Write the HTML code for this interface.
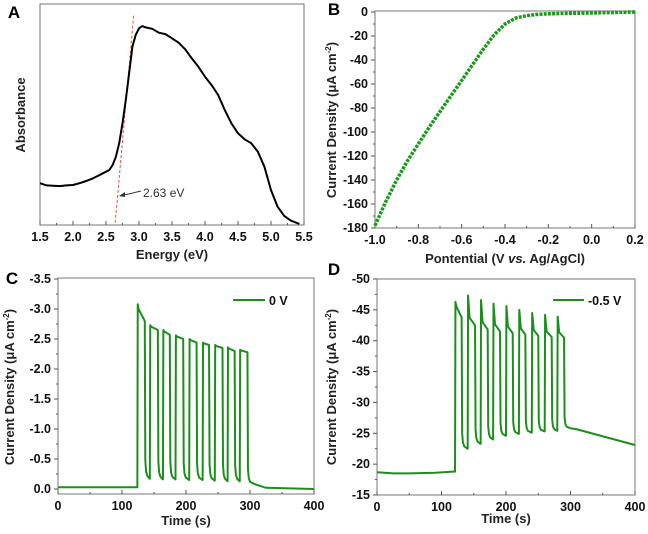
<!DOCTYPE html>
<html><head><meta charset="utf-8"><style>
html,body{margin:0;padding:0;background:#fff;}
svg{display:block;font-family:"Liberation Sans",Arial,sans-serif;}
.tk{font-size:12.5px;font-weight:bold;fill:#111;}
.tt{font-size:13px;font-weight:bold;fill:#222;}
.pl{font-size:17px;font-weight:bold;fill:#000;}
</style></head><body>
<svg id="fig" width="648" height="534" viewBox="0 0 648 534"></svg>
<script>
// ---------- Panel A data ----------
const aEnergy=[1.5,1.6,1.8,1.9,2.0,2.1,2.2,2.3,2.4,2.5,2.55,2.6,2.65,2.7,2.75,2.8,2.85,2.9,2.95,3.0,3.05,3.1,3.2,3.3,3.4,3.5,3.6,3.7,3.8,3.9,4.0,4.1,4.2,4.3,4.4,4.5,4.6,4.7,4.8,4.9,5.0,5.1,5.2,5.3,5.43];
const aAbs=[.189,.179,.176,.179,.181,.189,.199,.211,.226,.241,.249,.271,.309,.370,.460,.566,.686,.807,.860,.890,.900,.894,.888,.870,.864,.845,.825,.795,.754,.716,.671,.633,.588,.520,.460,.415,.388,.370,.332,.264,.158,.083,.041,.020,.005];
const aTicks=[1.5,2.0,2.5,3.0,3.5,4.0,4.5,5.0,5.5];
const aFitE=[2.64,2.92];
const aFitAbs=[0.01,0.95];
// ---------- Panel B data ----------
const bV=[-1.0,-0.95,-0.9,-0.85,-0.8,-0.75,-0.7,-0.65,-0.6,-0.55,-0.5,-0.45,-0.4,-0.35,-0.3,-0.25,-0.2,-0.1,0,0.1,0.2];
const bJ=[-178,-158,-140,-124,-110,-96,-83,-70,-57,-44,-31,-19,-10,-5,-3,-2,-1.5,-1.1,-0.8,-0.4,0];
const bXTicks=[-1.0,-0.8,-0.6,-0.4,-0.2,0.0,0.2];
const bYTicks=[0,-20,-40,-60,-80,-100,-120,-140,-160,-180];
// ---------- Panel C data ----------
const cOn=[124,143.5,164,183.6,205,226,245,265,284];
const cOff=[135.6,156,174.7,195.6,216.5,236,257,276,296];
const cPeak=[-3.08,-2.73,-2.65,-2.56,-2.5,-2.44,-2.4,-2.36,-2.32];
const cEnd=[-2.8,-2.65,-2.57,-2.5,-2.44,-2.4,-2.35,-2.3,-2.28];
const cDark=[-0.17,-0.16,-0.16,-0.15,-0.15,-0.14,-0.13,-0.13,-0.08];
const cBase=[-0.03,0.0];
const cXTicks=[0,100,200,300,400];
const cYTicks=[0.0,-0.5,-1.0,-1.5,-2.0,-2.5,-3.0,-3.5];
// ---------- Panel D data ----------
const dOn=[121,140.6,160.7,180,200,220,240,260,279.5];
const dOff=[131.2,152,171.6,190.7,210.4,230,250,270.8,290];
const dPeak=[-46.3,-47.3,-46.6,-46.0,-45.6,-45.0,-44.5,-44.2,-43.9];
const dEnd=[-43.8,-42.5,-41.8,-41.5,-41.2,-41.0,-40.8,-40.6,-40.5];
const dDark=[-22.5,-23.3,-24.0,-24.6,-24.9,-25.1,-25.3,-25.4,-25.8];
const dBaseT=[0,25,50,90,121];
const dBaseJ=[-18.7,-18.5,-18.5,-18.6,-18.8];
const dTailT=[308,400];
const dTailJ=[-25.7,-23.1];
const dXTicks=[0,100,200,300,400];
const dYTicks=[-15,-20,-25,-30,-35,-40,-45,-50];

const svg=document.getElementById('fig');
const NS='http://www.w3.org/2000/svg';
function mk(tag,attrs,parent){const e=document.createElementNS(NS,tag);for(const k in attrs)e.setAttribute(k,attrs[k]);(parent||svg).appendChild(e);return e;}
function lin(d0,d1,r0,r1){return v=>r0+(v-d0)*(r1-r0)/(d1-d0);}
function fmt(v,dec){return v.toFixed(dec);}

function frame(g,x0,y0,x1,y1){
  const r=mk('rect',{x:x0,y:y0,width:x1-x0,height:y1-y0,fill:'none',stroke:'#777','stroke-width':1},g);
  
}
function xAxis(g,ticks,sx,y,dec){
  ticks.forEach((t,i)=>{
    const x=sx(t);
    mk('line',{x1:x,x2:x,y1:y,y2:y-4,stroke:'#555'},g);
    const tx=mk('text',{x:x,y:y+16,'text-anchor':'middle',class:'tk'},g);tx.textContent=fmt(t,dec);
    
    if(i<ticks.length-1){const m=sx((t+ticks[i+1])/2);mk('line',{x1:m,x2:m,y1:y,y2:y-2,stroke:'#555'},g);}
  });
}
function yAxis(g,ticks,sy,x,dec){
  ticks.forEach((t,i)=>{
    const y=sy(t);
    mk('line',{x1:x,x2:x-4,y1:y,y2:y,stroke:'#555'},g);
    const tx=mk('text',{x:x-7,y:y+4,'text-anchor':'end',class:'tk'},g);tx.textContent=fmt(t,dec);
    
    if(i<ticks.length-1){const m=sy((t+ticks[i+1])/2);mk('line',{x1:x,x2:x-2,y1:m,y2:m,stroke:'#555'},g);}
  });
}
function label(g,txt,x,y,rot,name,cls){
  const t=mk('text',{x:x,y:y,'text-anchor':'middle',class:cls||'tt'},g);
  if(rot)t.setAttribute('transform','rotate(-90 '+x+' '+y+')');
  t.innerHTML=txt;
  return t;
}
function pathD(xs,ys,sx,sy){return xs.map((v,i)=>(i?'L':'M')+sx(v).toFixed(1)+','+sy(ys[i]).toFixed(1)).join(' ');}

// ===== Panel A =====
{
const g=mk('g',{});
const X0=40,X1=304,Y0=4,Y1=225;
const sx=lin(1.5,5.5,X0,X1), sy=lin(0,1,Y1,Y0);
frame(g,X0,Y0,X1,Y1);
xAxis(g,aTicks,sx,Y1,1);
const f=mk('path',{d:pathD(aFitE,aFitAbs,sx,sy),stroke:'#e85050','stroke-width':1,'stroke-dasharray':'3,2',fill:'none'},g);

const p=mk('path',{d:pathD(aEnergy,aAbs,sx,sy),stroke:'#000','stroke-width':2,fill:'none','stroke-linejoin':'round'},g);

const ar=mk('line',{x1:141,y1:191,x2:120,y2:196,stroke:'#333','stroke-width':1},g);

mk('path',{d:'M119,196 L125,192 L125,197 Z',fill:'#333'},g);
const an=mk('text',{x:143,y:197,'font-size':'12px',fill:'#333'},g);an.textContent='2.63 eV';

label(g,'Energy (eV)',172,259,false,'x-axis-title');
label(g,'Absorbance',25,115,true,'y-axis-title');
label(g,'A',14,18,false,'panel-label-a','pl');
}
// ===== Panel B =====
{
const g=mk('g',{});
const X0=375,X1=635,Y0=11,Y1=228;
const sx=lin(-1.0,0.2,X0,X1), sy=lin(0,-180,12,Y1);
frame(g,X0,Y0,X1,Y1);
xAxis(g,bXTicks,sx,Y1,1);
yAxis(g,bYTicks,sy,X0,0);
const p=mk('path',{d:pathD(bV,bJ,sx,sy),stroke:'#1a9a1a','stroke-width':3.5,fill:'none','stroke-dasharray':'3,1.2'},g);

label(g,'Pontential (V <tspan font-style="italic">vs.</tspan> Ag/AgCl)',505,263,false,'x-axis-title');
label(g,'Current Density (μA cm<tspan dy="-5" font-size="8">-2</tspan><tspan dy="5">)</tspan>',336,120,true,'y-axis-title');
label(g,'B',334,15,false,'panel-label-b','pl');
}
function pulsePath(on,off,peak,end,dark,sx,sy,baseT,baseJ,tailT,tailJ,spiky){
  let d=pathD(baseT,baseJ,sx,sy);
  for(let i=0;i<on.length;i++){
    const t0=on[i],t1=off[i],t2=i<on.length-1?on[i+1]:t1+(t1-t0);
    const prev=i===0?baseJ[baseJ.length-1]:dark[i-1];
    d+=' L'+sx(t0)+','+sy(prev);
    d+=' L'+sx(t0+0.6)+','+sy(peak[i]);
    if(spiky&&i>0){const mid=end[i]+(peak[i]-end[i])*0.25;d+=' L'+sx(t0+3)+','+sy(mid);}
    else{d+=' L'+sx(t0+2)+','+sy(peak[i]-(peak[i]-end[i])*0.3);}
    d+=' L'+sx(t1)+','+sy(end[i]);
    const top=dark[i]+(end[i]-dark[i])*0.12;
    d+=' L'+sx(t1+0.8)+','+sy(top);
    d+=' L'+sx(t1+2)+','+sy(dark[i]+(top-dark[i])*0.4);
    d+=' L'+sx(t1+4)+','+sy(dark[i]+(top-dark[i])*0.15);
    d+=' L'+sx(t2-0.3)+','+sy(dark[i]);
  }
  if(tailT)d+=' '+pathD(tailT,tailJ,sx,sy).replace('M','L');
  return d;
}
// ===== Panel C =====
{
const g=mk('g',{});
const X0=58,X1=314,Y0=278,Y1=494;
const sx=lin(0,400,X0,X1), sy=lin(0,-3.5,489,279);
frame(g,X0,Y0,X1,Y1);
xAxis(g,cXTicks,sx,Y1,0);
yAxis(g,cYTicks,sy,X0,1);
const d=pulsePath(cOn,cOff,cPeak,cEnd,cDark,sx,sy,[0,123.5],[cBase[0],cBase[0]],[325,400],[cBase[1]-0.02,cBase[1]],false);
const p=mk('path',{d:d,stroke:'#1a8f1a','stroke-width':2,fill:'none','stroke-linejoin':'round'},g);

const ll=mk('line',{x1:233,x2:265,y1:300,y2:300,stroke:'#1a8f1a','stroke-width':2},g);

const lt=mk('text',{x:269,y:305,class:'tk'},g);lt.textContent='0 V';

label(g,'Time (s)',186,525,false,'x-axis-title');
label(g,'Current Density (μA cm<tspan dy="-5" font-size="8">-2</tspan><tspan dy="5">)</tspan>',14,387,true,'y-axis-title');
label(g,'C',12,284,false,'panel-label-c','pl');
}
// ===== Panel D =====
{
const g=mk('g',{});
const X0=377,X1=635,Y0=279,Y1=495;
const sx=lin(0,400,X0,X1), sy=lin(-15,-50,Y1,Y0);
frame(g,X0,Y0,X1,Y1);
xAxis(g,dXTicks,sx,Y1,0);
yAxis(g,dYTicks,sy,X0,0);
const d=pulsePath(dOn,dOff,dPeak,dEnd,dDark,sx,sy,dBaseT,dBaseJ,dTailT,dTailJ,true);
const p=mk('path',{d:d,stroke:'#1a8f1a','stroke-width':2,fill:'none','stroke-linejoin':'round'},g);

const ll=mk('line',{x1:553,x2:584,y1:300,y2:300,stroke:'#1a8f1a','stroke-width':2},g);

const lt=mk('text',{x:588,y:305,class:'tk'},g);lt.textContent='-0.5 V';

label(g,'Time (s)',506,523,false,'x-axis-title');
label(g,'Current Density (μA cm<tspan dy="-5" font-size="8">-2</tspan><tspan dy="5">)</tspan>',336,387,true,'y-axis-title');
label(g,'D',334,275,false,'panel-label-d','pl');
}
</script>
</body></html>
